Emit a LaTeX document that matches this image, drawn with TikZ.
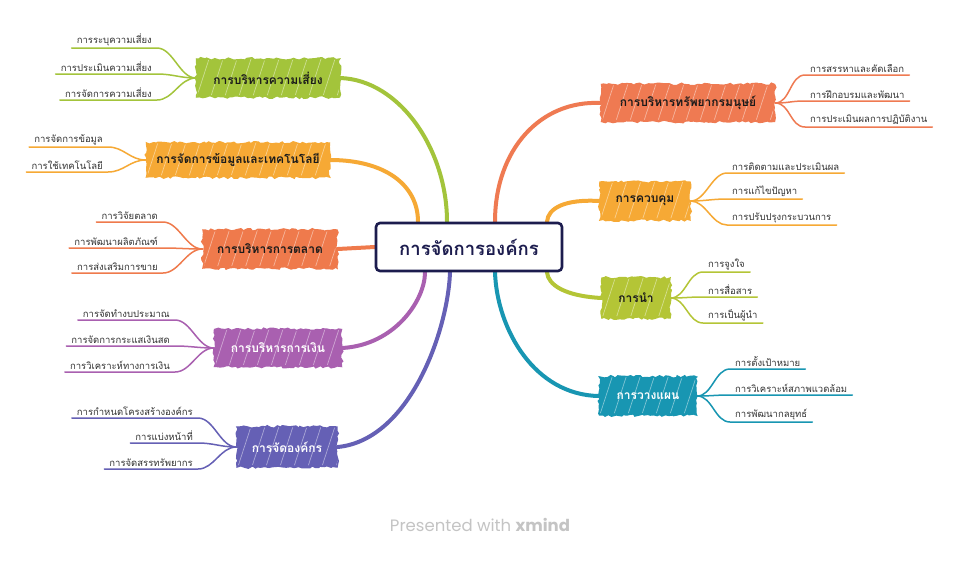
\documentclass[tikz,border=0pt]{standalone}
\usepackage{fontspec}
\newfontfamily\thai[Script=Thai]{Loma}
\newfontfamily\pop{Poppins}
\usetikzlibrary{decorations.pathmorphing,backgrounds}
\definecolor{cRA}{HTML}{A3C43B}
\definecolor{cRB}{HTML}{F6A935}
\definecolor{cRC}{HTML}{EF7A4C}
\definecolor{cRD}{HTML}{A960B0}
\definecolor{cRE}{HTML}{6560B5}
\definecolor{cHA}{HTML}{EF7A52}
\definecolor{cHB}{HTML}{F6A935}
\definecolor{cHC}{HTML}{B4C536}
\definecolor{cHD}{HTML}{1896B2}
\definecolor{navy}{HTML}{1C1C4E}
\definecolor{txtdark}{HTML}{1A1A1A}
\definecolor{txtgray}{HTML}{333333}
\definecolor{footgray}{HTML}{C4C4C4}
\pgfmathsetseed{7}
\tikzset{
  mainbox/.style 2 args={draw=#1, fill=#1, line width=1.4pt,
    decorate, decoration={random steps,segment length=3pt,amplitude=1.3pt},
    text=#2, font=\thai\bfseries\fontsize{12}{14}\selectfont, inner sep=0pt,
    path picture={\foreach \k in {-12,2,...,250}{\draw[white,opacity=.45,line width=.7pt]
      ([xshift=\k pt, yshift=3pt]path picture bounding box.south west) -- ++(13pt,40pt);}}},
  childtxt/.style={font=\thai\fontsize{9.5}{11}\selectfont, text=txtgray, inner xsep=5pt, inner ysep=2pt},
  childline/.style={line width=1.5pt, draw=#1, line cap=round},
  mainline/.style={line width=4pt, draw=#1, line cap=round},
  centerbox/.style={draw=navy, line width=2.6pt, rounded corners=4pt, fill=white,
    font=\thai\bfseries\fontsize{18.5}{21}\selectfont, text=navy}
}
\begin{document}
\begin{tikzpicture}[x=1pt,y=-1pt]
\useasboundingbox (0,0) rectangle (960,568);
% center
\node[centerbox, minimum width=186pt, minimum height=48pt] (center) at (469,247) {การจัดการองค์กร};
% main topics
\node[mainbox={cRA}{txtdark}, minimum width=143pt, minimum height=38pt] (r1) at (268,78) {การบริหารความเสี่ยง};
\node[mainbox={cRB}{txtdark}, minimum width=183pt, minimum height=34pt] (r2) at (238,160) {การจัดการข้อมูลและเทคโนโลยี};
\node[mainbox={cRC}{txtdark}, minimum width=134pt, minimum height=38pt] (r3) at (270,249) {การบริหารการตลาด};
\node[mainbox={cRD}{white}, minimum width=127pt, minimum height=37pt] (r4) at (278,348) {การบริหารการเงิน};
\node[mainbox={cRE}{white}, minimum width=100pt, minimum height=40pt] (r5) at (287,447) {การจัดองค์กร};
\node[mainbox={cHA}{txtdark}, minimum width=173pt, minimum height=37pt] (h1) at (688,103) {การบริหารทรัพยากรมนุษย์};
\node[mainbox={cHB}{txtdark}, minimum width=90pt, minimum height=38pt] (h2) at (645,201) {การควบคุม};
\node[mainbox={cHC}{txtdark}, minimum width=68pt, minimum height=40pt] (h3) at (636,298) {การนำ};
\node[mainbox={cHD}{white}, minimum width=97pt, minimum height=38pt] (h4) at (648,396) {การวางแผน};
% left children
\node[childtxt, anchor=south east] (r1a) at (157,48) {การระบุความเสี่ยง};
\node[childtxt, anchor=south east] (r1b) at (157,74) {การประเมินความเสี่ยง};
\node[childtxt, anchor=south east] (r1c) at (157,100) {การจัดการความเสี่ยง};
\node[childtxt, anchor=south east] (r2a) at (108,147) {การจัดการข้อมูล};
\node[childtxt, anchor=south east] (r2b) at (108,172) {การใช้เทคโนโลยี};
\node[childtxt, anchor=south east] (r3a) at (163,222) {การวิจัยตลาด};
\node[childtxt, anchor=south east] (r3b) at (163,248) {การพัฒนาผลิตภัณฑ์};
\node[childtxt, anchor=south east] (r3c) at (163,273) {การส่งเสริมการขาย};
\node[childtxt, anchor=south east] (r4a) at (175,320) {การจัดทำงบประมาณ};
\node[childtxt, anchor=south east] (r4b) at (175,346) {การจัดการกระแสเงินสด};
\node[childtxt, anchor=south east] (r4c) at (175,372) {การวิเคราะห์ทางการเงิน};
\node[childtxt, anchor=south east] (r5a) at (198,418) {การกำหนดโครงสร้างองค์กร};
\node[childtxt, anchor=south east] (r5b) at (198,443) {การแบ่งหน้าที่};
\node[childtxt, anchor=south east] (r5c) at (198,469) {การจัดสรรทรัพยากร};
% right children
\node[childtxt, anchor=south west] (h1a) at (805,75) {การสรรหาและคัดเลือก};
\node[childtxt, anchor=south west] (h1b) at (805,101) {การฝึกอบรมและพัฒนา};
\node[childtxt, anchor=south west] (h1c) at (805,127) {การประเมินผลการปฏิบัติงาน};
\node[childtxt, anchor=south west] (h2a) at (727,173) {การติดตามและประเมินผล};
\node[childtxt, anchor=south west] (h2b) at (727,199) {การแก้ไขปัญหา};
\node[childtxt, anchor=south west] (h2c) at (727,225) {การปรับปรุงกระบวนการ};
\node[childtxt, anchor=south west] (h3a) at (703,272) {การจูงใจ};
\node[childtxt, anchor=south west] (h3b) at (703,297) {การสื่อสาร};
\node[childtxt, anchor=south west] (h3c) at (703,323) {การเป็นผู้นำ};
\node[childtxt, anchor=south west] (h4a) at (730,369) {การตั้งเป้าหมาย};
\node[childtxt, anchor=south west] (h4b) at (730,395) {การวิเคราะห์สภาพแวดล้อม};
\node[childtxt, anchor=south west] (h4c) at (730,422) {การพัฒนากลยุทธ์};
% footer
\node[font=\pop\fontsize{16.5}{19}\selectfont, text=footgray] (foot) at (480,525) {Presented with \textbf{xmind}};
\begin{scope}[on background layer]
\fill[white] (0,0) rectangle (960,568);
% main connectors
\draw[mainline=cRA] (r1.east) .. controls (400,80) and (447,150) .. ([xshift=-22pt]center.north);
\draw[mainline=cRB] (r2.east) .. controls (385,160) and (418,185) .. ([xshift=-51pt]center.north);
\draw[mainline=cRC] (r3.east) -- (center.west);
\draw[mainline=cRD] (r4.east) .. controls (395,345) and (425,300) .. ([xshift=-44pt]center.south);
\draw[mainline=cRE] (r5.east) .. controls (410,440) and (448,330) .. ([xshift=-19pt]center.south);
\draw[mainline=cHA] (h1.west) .. controls (540,100) and (495,150) .. ([xshift=26pt]center.north);
\draw[mainline=cHB] (h2.west) .. controls (565,199) and (548,208) .. ([xshift=78pt]center.north);
\draw[mainline=cHC] (h3.west) .. controls (565,296) and (548,285) .. ([xshift=78pt]center.south);
\draw[mainline=cHD] (h4.west) .. controls (535,395) and (497,330) .. ([xshift=26pt]center.south);
% child connectors
\foreach \p/\c/\col in {r1/r1a/cRA,r1/r1b/cRA,r1/r1c/cRA,r2/r2a/cRB,r2/r2b/cRB,
  r3/r3a/cRC,r3/r3b/cRC,r3/r3c/cRC,r4/r4a/cRD,r4/r4b/cRD,r4/r4c/cRD,
  r5/r5a/cRE,r5/r5b/cRE,r5/r5c/cRE}
  {\draw[childline=\col] (\c.south west) -- (\c.south east) .. controls +(16,0) and +(-16,0) .. (\p.west);}
\foreach \p/\c/\col in {h1/h1a/cHA,h1/h1b/cHA,h1/h1c/cHA,h2/h2a/cHB,h2/h2b/cHB,h2/h2c/cHB,
  h3/h3a/cHC,h3/h3b/cHC,h3/h3c/cHC,h4/h4a/cHD,h4/h4b/cHD,h4/h4c/cHD}
  {\draw[childline=\col] (\p.east) .. controls +(15,0) and +(-15,0) .. (\c.south west) -- (\c.south east);}
\end{scope}
\end{tikzpicture}
\end{document}
